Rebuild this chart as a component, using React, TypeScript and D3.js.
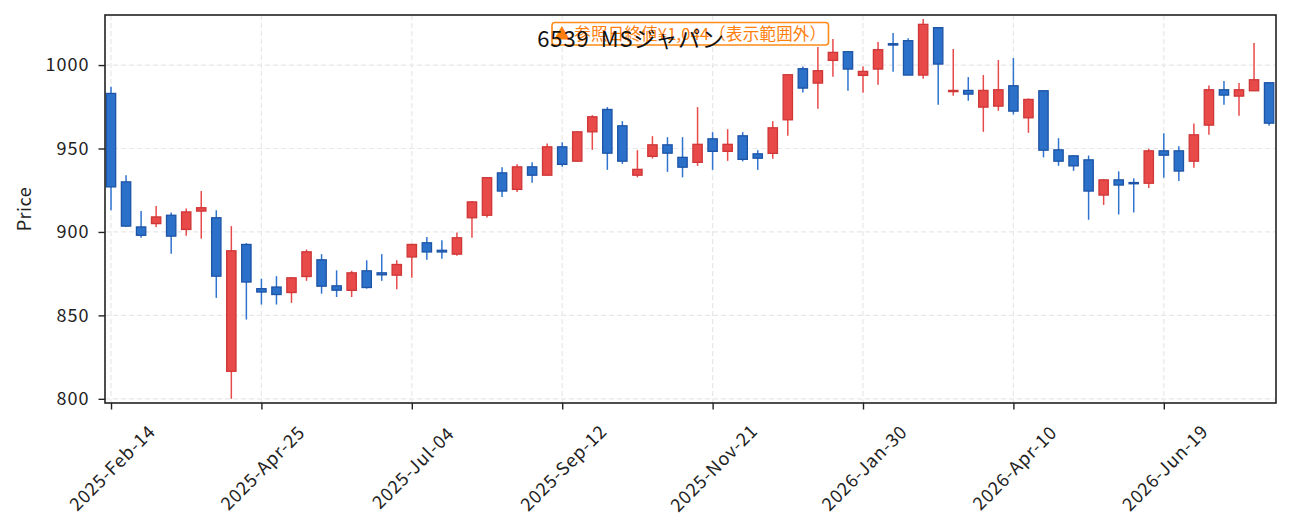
import React, { useEffect, useRef } from 'react';
import * as d3 from 'd3';

// weekly candles, first week 2025-02-14
const opens = [
  983, 930, 903, 905, 910, 901.5, 912.5, 908.5, 816.5, 892.5,
  866, 867, 863.7, 873.3, 883.3, 867.7, 865, 876.7, 875.5, 874.1,
  885, 893.5, 889, 886.7, 908.5, 910, 935.4, 925.5, 939, 934,
  951, 942.4, 960, 973.4, 963.6, 934, 945.3, 952.2, 944.7, 941.7,
  955.8, 948.3, 957.6, 946.8, 947.1, 967.2, 997.8, 989.2, 1002.8, 1008,
  993.8, 997.6, 1012.8, 1014.6, 994, 1022.4, 984.2, 984.8, 974.8, 975.4,
  987.6, 968.4, 984.6, 949.2, 945.6, 943.2, 922.1, 931.2, 929.6, 929.2,
  948.6, 948.6, 942.4, 964, 985.2, 981.4, 984.6, 989.4,
];
const highs = [
  987, 934, 912.5, 915.5, 911.7, 914, 924.5, 913, 903.5, 893.3,
  872, 873.5, 873, 889.5, 886.7, 877, 876.7, 883, 886.7, 883,
  893, 897, 895, 899.7, 918.5, 933, 938.8, 940.5, 941.8, 953,
  953.8, 960, 970, 974.8, 966.4, 949, 957.4, 956.8, 956.8, 974.8,
  959.8, 961.6, 959.8, 949, 966.4, 994.5, 999.2, 1010.8, 1015.6, 1008.3,
  999.2, 1013.8, 1019.2, 1016, 1027.6, 1022.4, 1009.6, 992.8, 994, 1003,
  1004.2, 980, 984.6, 956.2, 946, 945.8, 931.5, 936.3, 932.1, 949.8,
  959.2, 951.3, 965, 987.8, 990.4, 989.2, 1013.2, 989.4,
];
const lows = [
  913, 903, 896.5, 903, 887, 897.7, 896, 860.5, 800, 847.5,
  856.5, 856.5, 857.5, 870.7, 863, 861, 861, 866, 870.7, 865.7,
  872.5, 883.3, 884, 885.7, 896.5, 908.7, 921, 924, 929.5, 934,
  939, 942, 949.2, 937.2, 940.8, 932.7, 944, 936, 932.7, 939.6,
  937.2, 942.6, 942.3, 937.2, 943.9, 957.6, 983.6, 973.8, 993, 984.6,
  983.4, 988.2, 996, 994, 991.8, 976.2, 981.6, 978.6, 960, 972.6,
  970.4, 959.4, 944.7, 939.6, 936.6, 907.3, 916.2, 910.5, 911.7, 926.4,
  932.5, 930.6, 938.4, 958.2, 976.2, 969.6, 984.6, 963.6,
];
const closes = [
  927, 903.5, 898, 909, 897.5, 912, 914.5, 873.5, 888.7, 870,
  864, 862.5, 872.5, 888.1, 867.5, 865.1, 875.5, 866.7, 874.3, 880.5,
  892.5, 888, 888, 896.5, 918, 932.5, 924.5, 939, 934, 951,
  940.5, 960, 969, 947.2, 942.4, 937.5, 952.2, 947.2, 938.8, 952.5,
  948.3, 952.5, 943.5, 944.2, 962.4, 994.2, 986.2, 996.6, 1007.6, 997.6,
  996.2, 1009.2, 1012, 994, 1024.4, 1000.6, 984.8, 982.6, 984.8, 985.2,
  972.4, 979.4, 949, 942.4, 939.6, 924.5, 931.2, 928.1, 929.2, 948.6,
  946, 936.5, 958.2, 985.2, 982, 985.2, 991.2, 965.2,
];
const yTicks = [800, 850, 900, 950, 1000];
const xTickIndex = [0, 10, 20, 30, 40, 50, 60, 70];
const xTickLabels = [
  '2025-Feb-14', '2025-Apr-25', '2025-Jul-04', '2025-Sep-12',
  '2025-Nov-21', '2026-Jan-30', '2026-Apr-10', '2026-Jun-19',
];
const title = '6539  MSジャパン';
const note = '▲ 参照日終値¥1,044（表示範囲外）';

const upFill = '#e84a4a';
const upEdge = '#cf3636';
const downFill = '#2b70c9';
const downEdge = '#1d54a6';

const App: React.FC = () => {
  const svgRef = useRef<SVGSVGElement>(null);

  useEffect(() => {
    const width = 1291;
    const height = 532;
    const margin = { top: 15, right: 15, bottom: 129, left: 105 };
    const font = "'Noto Sans CJK JP', 'Noto Sans', sans-serif";

    const svg = d3.select(svgRef.current);
    svg.selectAll('*').remove();
    svg.attr('width', width).attr('height', height);

    const data = opens.map((o, i) => ({ i, o, h: highs[i], l: lows[i], c: closes[i] }));

    const x = d3.scaleLinear()
      .domain([-0.4, 77.46])
      .range([margin.left, width - margin.right]);
    const y = d3.scaleLinear()
      .domain([797.5, 1030])
      .range([height - margin.bottom, margin.top]);

    const step = x(1) - x(0);
    const bodyW = step * 0.62;

    // grid
    const grid = svg.append('g');
    grid.selectAll('line.gy')
      .data(yTicks)
      .enter()
      .append('line')
      .attr('x1', margin.left)
      .attr('x2', width - margin.right)
      .attr('y1', d => y(d))
      .attr('y2', d => y(d))
      .attr('stroke', '#e8e8e8')
      .attr('stroke-width', 1.2)
      .attr('stroke-dasharray', '5,3');
    grid.selectAll('line.gx')
      .data(xTickIndex)
      .enter()
      .append('line')
      .attr('x1', d => x(d))
      .attr('x2', d => x(d))
      .attr('y1', margin.top)
      .attr('y2', height - margin.bottom)
      .attr('stroke', '#e8e8e8')
      .attr('stroke-width', 1.2)
      .attr('stroke-dasharray', '5,3');

    // candles
    const candles = svg.append('g')
      .selectAll('g')
      .data(data)
      .enter()
      .append('g');

    candles.append('line')
      .attr('x1', d => x(d.i))
      .attr('x2', d => x(d.i))
      .attr('y1', d => y(d.h))
      .attr('y2', d => y(d.l))
      .attr('stroke', d => (d.c >= d.o ? upFill : '#2f74cf'))
      .attr('stroke-width', 1.5);

    candles.append('rect')
      .attr('x', d => x(d.i) - bodyW / 2)
      .attr('width', bodyW)
      .attr('y', d => y(Math.max(d.o, d.c)))
      .attr('height', d => Math.max(1.2, Math.abs(y(d.o) - y(d.c))))
      .attr('fill', d => (d.c >= d.o ? upFill : downFill))
      .attr('stroke', d => (d.c >= d.o ? upEdge : downEdge))
      .attr('stroke-width', 1.3);

    // axes frame
    svg.append('rect')
      .attr('x', margin.left)
      .attr('y', margin.top)
      .attr('width', width - margin.left - margin.right)
      .attr('height', height - margin.top - margin.bottom)
      .attr('fill', 'none')
      .attr('stroke', '#222')
      .attr('stroke-width', 1.6);

    const yAxis = svg.append('g')
      .attr('transform', `translate(${margin.left},0)`)
      .call(d3.axisLeft(y).tickValues(yTicks).tickFormat(d3.format('d')).tickSize(6.5).tickPadding(9));
    yAxis.select('.domain').remove();
    yAxis.selectAll('line').attr('stroke', '#222').attr('stroke-width', 1.4);
    yAxis.selectAll('text')
      .attr('font-family', font)
      .attr('font-size', 18)
      .attr('letter-spacing', 1)
      .attr('fill', '#222');

    const xAxis = svg.append('g')
      .attr('transform', `translate(0,${height - margin.bottom})`)
      .call(
        d3.axisBottom(x)
          .tickValues(xTickIndex)
          .tickFormat((_, k) => xTickLabels[k])
          .tickSize(6.5)
      );
    xAxis.select('.domain').remove();
    xAxis.selectAll('line').attr('stroke', '#222').attr('stroke-width', 1.4);
    xAxis.selectAll('text')
      .attr('font-family', font)
      .attr('font-size', 18)
      .attr('letter-spacing', 0.8)
      .attr('fill', '#222')
      .attr('text-anchor', 'middle')
      .attr('y', 0)
      .attr('dy', '0.35em')
      .attr('transform', 'translate(1,65) rotate(-45)');

    svg.append('text')
      .attr('transform', `translate(31,${(margin.top + height - margin.bottom) / 2}) rotate(-90)`)
      .attr('text-anchor', 'middle')
      .attr('font-family', font)
      .attr('font-size', 18)
      .attr('letter-spacing', 0.5)
      .attr('fill', '#222')
      .text('Price');

    // note box
    const noteG = svg.append('g');
    noteG.append('rect')
      .attr('x', 552)
      .attr('y', 22.5)
      .attr('width', 276.5)
      .attr('height', 22.5)
      .attr('rx', 3)
      .attr('fill', 'rgba(255,255,255,0.85)')
      .attr('stroke', '#ff8c1a')
      .attr('stroke-width', 1.6);
    noteG.append('text')
      .attr('x', 690)
      .attr('y', 39.5)
      .attr('text-anchor', 'middle')
      .attr('font-family', font)
      .attr('font-size', 16.5)
      .attr('letter-spacing', 0.2)
      .attr('fill', '#ff7f0e')
      .text(note);

    svg.append('text')
      .attr('x', 631)
      .attr('y', 47)
      .attr('text-anchor', 'middle')
      .attr('font-family', font)
      .attr('font-size', 22)
      .attr('letter-spacing', 0.8)
      .attr('fill', '#111')
      .attr('xml:space', 'preserve')
      .style('white-space', 'pre')
      .text(title);
  }, []);

  return <svg ref={svgRef} style={{ display: 'block', position: 'absolute', left: 0, top: 0 }}></svg>;
};

export default App;
